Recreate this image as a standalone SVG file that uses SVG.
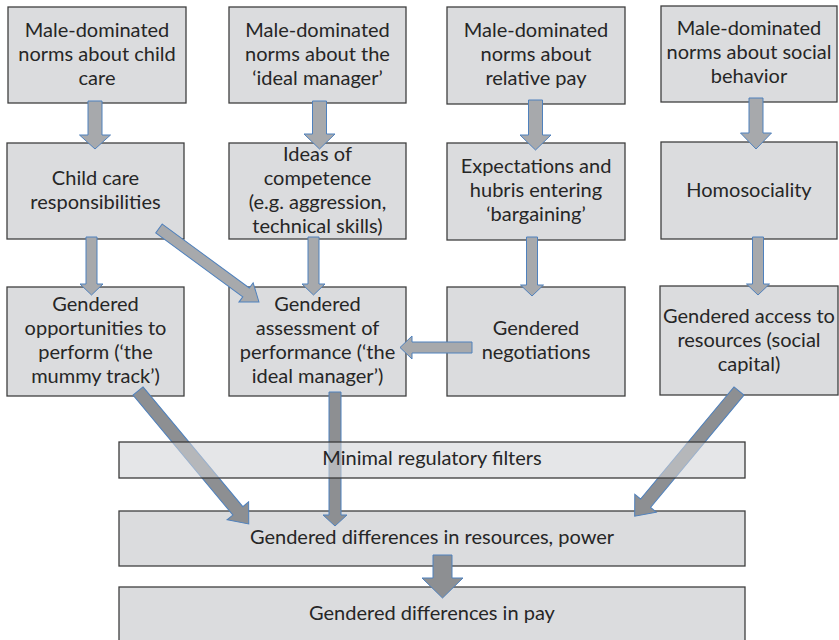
<svg xmlns="http://www.w3.org/2000/svg" width="839" height="640" viewBox="0 0 839 640">
<style>
.box{fill:#dbdcde;stroke:#3f3f3f;stroke-width:1.3}
.filter{fill:#d3d4d7;fill-opacity:0.58;stroke:#3a3a3a;stroke-width:1.3}
.t{font-family:Lato,"Liberation Sans",sans-serif;font-size:20px;fill:#262626;text-anchor:middle}
.al{fill:#a7a9ac;stroke:#4f81bd;stroke-width:1}
.ad{fill:#8d8f92;stroke:#4f81bd;stroke-width:1}
</style>
<rect width="839" height="640" fill="#ffffff"/>
<g id="n-childnorms"><rect class="box" x="8" y="7" width="178" height="96"/>
<text class="t" x="97" y="37">Male-dominated</text><text class="t" x="97" y="61">norms about child</text><text class="t" x="97" y="85">care</text></g>
<g id="n-managernorms"><rect class="box" x="229" y="7" width="177" height="96"/>
<text class="t" x="317.5" y="37">Male-dominated</text><text class="t" x="317.5" y="61">norms about the</text><text class="t" x="317.5" y="85">‘ideal manager’</text></g>
<g id="n-paynorms"><rect class="box" x="447" y="7" width="178" height="97"/>
<text class="t" x="536" y="37">Male-dominated</text><text class="t" x="536" y="61">norms about</text><text class="t" x="536" y="85">relative pay</text></g>
<g id="n-socialnorms"><rect class="box" x="661" y="6" width="176" height="96"/>
<text class="t" x="749" y="35">Male-dominated</text><text class="t" x="749" y="59">norms about social</text><text class="t" x="749" y="83">behavior</text></g>
<g id="n-childcare"><rect class="box" x="7" y="143" width="177" height="96"/>
<text class="t" x="95.5" y="185">Child care</text><text class="t" x="95.5" y="209">responsibilities</text></g>
<g id="n-competence"><rect class="box" x="229" y="143" width="177" height="96"/>
<text class="t" x="317.5" y="161">Ideas of</text><text class="t" x="317.5" y="185">competence</text><text class="t" x="317.5" y="209">(e.g. aggression,</text><text class="t" x="317.5" y="233">technical skills)</text></g>
<g id="n-expectations"><rect class="box" x="447" y="143" width="178" height="97"/>
<text class="t" x="536" y="173">Expectations and</text><text class="t" x="536" y="197">hubris entering</text><text class="t" x="536" y="221">‘bargaining’</text></g>
<g id="n-homosociality"><rect class="box" x="661" y="142" width="176" height="97"/>
<text class="t" x="749" y="197">Homosociality</text></g>
<g id="n-opportunities"><rect class="box" x="7" y="287" width="177" height="109"/>
<text class="t" x="95.5" y="311">Gendered</text><text class="t" x="95.5" y="335">opportunities to</text><text class="t" x="95.5" y="359">perform (‘the</text><text class="t" x="95.5" y="383">mummy track’)</text></g>
<g id="n-assessment"><rect class="box" x="229" y="287" width="177" height="109"/>
<text class="t" x="317.5" y="311">Gendered</text><text class="t" x="317.5" y="335">assessment of</text><text class="t" x="317.5" y="359">performance (‘the</text><text class="t" x="317.5" y="383">ideal manager’)</text></g>
<g id="n-negotiations"><rect class="box" x="447" y="287" width="178" height="109"/>
<text class="t" x="536" y="335">Gendered</text><text class="t" x="536" y="359">negotiations</text></g>
<g id="n-access"><rect class="box" x="660" y="286" width="178" height="109"/>
<text class="t" x="749" y="323">Gendered access to</text><text class="t" x="749" y="347">resources (social</text><text class="t" x="749" y="371">capital)</text></g>
<g id="n-resources"><rect class="box" x="119" y="511" width="626" height="55"/>
<text class="t" x="432" y="544">Gendered differences in resources, power</text></g>
<g id="n-pay"><rect class="box" x="119" y="587" width="626" height="60"/>
<text class="t" x="432" y="620">Gendered differences in pay</text></g>
<g id="connectors">
<polygon class="al" points="88,101 102,101 102,135 110.5,135 95,149 79.5,135 88,135"/>
<polygon class="al" points="312.5,101 326.5,101 326.5,134 335,134 319.5,149 304,134 312.5,134"/>
<polygon class="al" points="528.5,100 542.5,100 542.5,135 551,135 535.5,150 520,135 528.5,135"/>
<polygon class="al" points="749,98 763,98 763,133 771.5,133 756,149 740.5,133 749,133"/>
<polygon class="al" points="86,237 97,237 97,284 103,284 91.5,295 80,284 86,284"/>
<polygon class="al" points="308,237 319,237 319,284 325,284 313.5,295 302,284 308,284"/>
<polygon class="al" points="526.5,237 537.5,237 537.5,285 543.5,285 532,296 520.5,285 526.5,285"/>
<polygon class="al" points="752.5,237 763.5,237 763.5,284 769.5,284 758,295 746.5,284 752.5,284"/>
<polygon class="al" points="472,342 412,342 412,336 400,347.5 412,359 412,353 472,353"/>
<polygon class="al" transform="translate(159,228.5) rotate(36.3)" points="0,-5.5 108,-5.5 108,-12 124,0 108,12 108,5.5 0,5.5"/>
<polygon class="ad" transform="translate(138,391) rotate(50.2)" points="0,-6.5 156,-6.5 156,-14 173,0 156,14 156,6.5 0,6.5"/>
<polygon class="ad" points="329,392 341,392 341,515 347,515 335,526 323,515 329,515"/>
<polygon class="ad" transform="translate(739,391) rotate(129.8)" points="0,-6.5 146,-6.5 146,-14 163,0 146,14 146,6.5 0,6.5"/>
<polygon class="ad" points="433,555 452,555 452,578 463,578 442.5,598 422,578 433,578"/>
</g>
<g id="n-filters"><rect class="filter" x="119" y="442" width="626" height="36"/>
<text class="t" x="432" y="465">Minimal regulatory filters</text></g>
</svg>
